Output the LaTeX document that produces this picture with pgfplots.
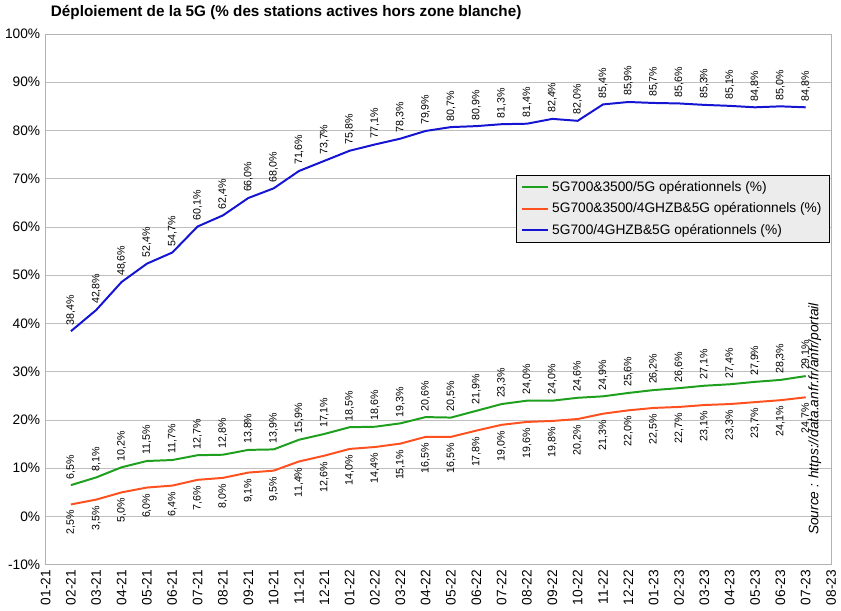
\documentclass[border=0pt]{standalone}
\usepackage{pgfplots}
\pgfplotsset{compat=1.18}
\usepackage{fontspec}
\setmainfont{Liberation Sans}
\begin{document}
\begin{tikzpicture}
\begin{axis}[
  width=515pt, height=348pt, scale only axis,
  xmin=0, xmax=31, ymin=-10, ymax=100,
  ytick={-10,0,...,100},
  yticklabel={\pgfmathprintnumber{\tick}\%},
  xtick={0,...,31},
  xticklabels={01-21,02-21,03-21,04-21,05-21,06-21,07-21,08-21,09-21,10-21,11-21,12-21,01-22,02-22,03-22,04-22,05-22,06-22,07-22,08-22,09-22,10-22,11-22,12-22,01-23,02-23,03-23,04-23,05-23,06-23,07-23,08-23},
  xticklabel style={rotate=90,anchor=east,font=\small},
  yticklabel style={font=\small},
  /pgf/number format/assume math mode=true,
  ymajorgrids, grid style={gray!50},
  tick style={draw=none},
  axis line style={gray!60},
  title={\bfseries Déploiement de la 5G (\% des stations actives hors zone blanche)},
  title style={at={(0,1)},anchor=south west,xshift=0pt,font=\normalsize},
  legend style={at={(0.998,0.735)},anchor=north east,fill=gray!15,draw=black,font=\small,cells={anchor=west},row sep=2pt},
  legend image post style={line width=1.5pt},
  nodes near coords style={font=\scriptsize,rotate=90,text=black},
  every axis plot/.append style={line width=1.3pt},
]
\addplot[color={rgb,255:red,30;green,160;blue,30}, nodes near coords, nodes near coords style={anchor=west}, point meta=explicit symbolic] table[meta=l] {
x y l
1 6.5 6,5\%
2 8.1 8,1\%
3 10.2 10,2\%
4 11.5 11,5\%
5 11.7 11,7\%
6 12.7 12,7\%
7 12.8 12,8\%
8 13.8 13,8\%
9 13.9 13,9\%
10 15.9 15,9\%
11 17.1 17,1\%
12 18.5 18,5\%
13 18.6 18,6\%
14 19.3 19,3\%
15 20.6 20,6\%
16 20.5 20,5\%
17 21.9 21,9\%
18 23.3 23,3\%
19 24.0 24,0\%
20 24.0 24,0\%
21 24.6 24,6\%
22 24.9 24,9\%
23 25.6 25,6\%
24 26.2 26,2\%
25 26.6 26,6\%
26 27.1 27,1\%
27 27.4 27,4\%
28 27.9 27,9\%
29 28.3 28,3\%
30 29.1 29,1\%
};
\addlegendentry{5G700\&3500/5G opérationnels (\%)}
\addplot[color={rgb,255:red,255;green,80;blue,32}, nodes near coords, nodes near coords style={anchor=east}, point meta=explicit symbolic] table[meta=l] {
x y l
1 2.5 2,5\%
2 3.5 3,5\%
3 5.0 5,0\%
4 6.0 6,0\%
5 6.4 6,4\%
6 7.6 7,6\%
7 8.0 8,0\%
8 9.1 9,1\%
9 9.5 9,5\%
10 11.4 11,4\%
11 12.6 12,6\%
12 14.0 14,0\%
13 14.4 14,4\%
14 15.1 15,1\%
15 16.5 16,5\%
16 16.5 16,5\%
17 17.8 17,8\%
18 19.0 19,0\%
19 19.6 19,6\%
20 19.8 19,8\%
21 20.2 20,2\%
22 21.3 21,3\%
23 22.0 22,0\%
24 22.5 22,5\%
25 22.7 22,7\%
26 23.1 23,1\%
27 23.3 23,3\%
28 23.7 23,7\%
29 24.1 24,1\%
30 24.7 24,7\%
};
\addlegendentry{5G700\&3500/4GHZB\&5G opérationnels (\%)}
\addplot[color={rgb,255:red,20;green,20;blue,210}, nodes near coords, nodes near coords style={anchor=west}, point meta=explicit symbolic] table[meta=l] {
x y l
1 38.4 38,4\%
2 42.8 42,8\%
3 48.6 48,6\%
4 52.4 52,4\%
5 54.7 54,7\%
6 60.1 60,1\%
7 62.4 62,4\%
8 66.0 66,0\%
9 68.0 68,0\%
10 71.6 71,6\%
11 73.7 73,7\%
12 75.8 75,8\%
13 77.1 77,1\%
14 78.3 78,3\%
15 79.9 79,9\%
16 80.7 80,7\%
17 80.9 80,9\%
18 81.3 81,3\%
19 81.4 81,4\%
20 82.4 82,4\%
21 82.0 82,0\%
22 85.4 85,4\%
23 85.9 85,9\%
24 85.7 85,7\%
25 85.6 85,6\%
26 85.3 85,3\%
27 85.1 85,1\%
28 84.8 84,8\%
29 85.0 85,0\%
30 84.8 84,8\%
};
\addlegendentry{5G700/4GHZB\&5G opérationnels (\%)}
\node[rotate=90,anchor=south west,font=\small\itshape] at (rel axis cs:1,0) [xshift=16pt,yshift=3pt] {Source : https://data.anfr.fr/anfr/portail};
\end{axis}
\end{tikzpicture}
\end{document}
